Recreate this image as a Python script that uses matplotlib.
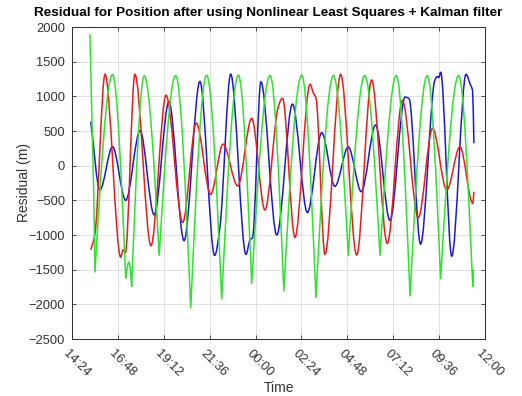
#!/usr/bin/env python3
"""Residual for position (NLS + Kalman filter), three components over time."""

from datetime import datetime, timedelta

import numpy as np
import matplotlib
matplotlib.use("Agg")
import matplotlib.pyplot as plt
import matplotlib.dates as mdates
from matplotlib.path import Path
from matplotlib.patches import PathPatch
from matplotlib.transforms import ScaledTranslation

# hours elapsed since 14:24, residual in m (peaks / troughs)
BLUE_HOURS = [0.98, 1.46, 2.12, 2.81, 3.56, 4.30, 5.07, 5.86, 6.69, 7.46, 7.74,
              8.30, 9.10, 9.31, 9.44, 9.88, 10.71, 11.53, 12.31, 13.06, 13.75,
              14.45, 15.13, 15.88, 16.63, 17.42, 17.63, 18.23, 18.98, 19.12,
              19.18, 19.28, 19.86, 20.61, 20.82, 20.95, 21.02]
BLUE_VALUES = [635, -350, 274, -500, 505, -711, 923, -1081, 1215, -1295, -880,
               1320, -1280, -1070, -1040, 1210, -1000, 888, -675, 475, -298,
               270, -375, 587, -790, 990, 965, -1132, 1235, 1285,
               1270, 1350, -1305, 1318, 1180, 1080, 323]

RED_HOURS = [0.98, 1.20, 1.73, 2.55, 2.67, 2.79, 3.29, 4.13, 4.92, 5.79, 6.50,
             7.25, 7.90, 8.67, 9.40, 10.09, 10.79, 11.01, 11.66, 12.45, 12.63,
             12.76, 13.23, 14.05, 14.89, 15.67, 16.49, 17.28, 18.11, 18.86,
             19.60, 20.29, 20.96, 21.02]
RED_VALUES = [-1215, -985, 1318, -1320, -1216, -1254, 1318, -1154, 1015, -818, 615,
              -414, 310, -293, 683, -640, 851, 972, -1034, 1174, 1044,
              980, -1279, 1318, -1289, 1236, -1121, 940, -750, 539,
              -351, 274, -543, -375]

GREEN_HOURS = [0.94, 1.20, 2.12, 2.81, 2.98, 3.12, 3.78, 4.56, 5.42, 6.21, 7.04,
               7.83, 8.70, 9.40, 10.36, 11.08, 12.01, 12.76, 13.67, 14.45, 15.31,
               16.11, 16.96, 17.68, 18.58, 19.28, 20.22, 20.96, 21.00]
GREEN_VALUES = [1895, -1540, 1315, -1625, -1390, -1745, 1295, -1300, 1300, -2055, 1305,
                -1930, 1305, -1705, 1300, -1815, 1305, -1910, 1300, -1300, 1300,
                -1300, 1300, -1885, 1300, -1638, 1300, -1745, -1500]

START = datetime(2020, 1, 1, 14, 24)
TICK_STEP_H = 2.4
N_TICKS = 10


def _smooth_path(xs, ys, cusp_min=False):
    # cubic bezier through the read points, flat at extrema (sharp minima if cusp_min)
    xs = np.asarray(xs, dtype=float)
    ys = np.asarray(ys, dtype=float)
    n = len(xs)
    d = np.diff(ys) / np.diff(xs)
    m_l = np.zeros(n)
    m_r = np.zeros(n)
    m_l[0] = m_r[0] = d[0]
    m_l[-1] = m_r[-1] = d[-1]
    for i in range(1, n - 1):
        a, b = d[i - 1], d[i]
        if a * b <= 0:
            if cusp_min and a < 0 < b:
                m_l[i] = 1.5 * a
                m_r[i] = 1.5 * b
        else:
            m_l[i] = m_r[i] = 2 * a * b / (a + b)
    verts = [(xs[0], ys[0])]
    codes = [Path.MOVETO]
    for i in range(n - 1):
        h = xs[i + 1] - xs[i]
        verts += [
            (xs[i] + h / 3, ys[i] + m_r[i] * h / 3),
            (xs[i + 1] - h / 3, ys[i + 1] - m_l[i + 1] * h / 3),
            (xs[i + 1], ys[i + 1]),
        ]
        codes += [Path.CURVE4] * 3
    return Path(verts, codes)


def _to_dates(hours):
    return [mdates.date2num(START + timedelta(hours=h)) for h in hours]


def main() -> int:
    plt.rcParams.update(
        {
            "font.family": ["Liberation Sans", "DejaVu Sans"],
            "font.size": 9.3,
            "axes.edgecolor": "#333333",
            "axes.linewidth": 0.75,
            "xtick.color": "#333333",
            "ytick.color": "#333333",
        }
    )

    fig = plt.figure(figsize=(5.22, 3.96), dpi=100)
    ax = fig.add_axes([72 / 522, 1 - 339 / 396, 413 / 522, 312 / 396])

    series = [
        (BLUE_HOURS, BLUE_VALUES, "#1a1ad0", False),
        (RED_HOURS, RED_VALUES, "#e81c1c", False),
        (GREEN_HOURS, GREEN_VALUES, "#2ee22e", True),
    ]
    for hours, values, color, cusp in series:
        path = _smooth_path(_to_dates(hours), values, cusp_min=cusp)
        ax.add_patch(PathPatch(path, facecolor="none", edgecolor=color,
                               linewidth=1.1, transform=ax.transData))

    ticks = [START + timedelta(hours=TICK_STEP_H * k) for k in range(N_TICKS)]
    tick_nums = [mdates.date2num(t) for t in ticks]
    ax.set_xlim(tick_nums[0], tick_nums[-1])
    ax.set_xticks(tick_nums)
    ax.set_xticklabels([t.strftime("%H:%M") for t in ticks], rotation=-45,
                       ha="left", va="center", rotation_mode="anchor")
    ax.set_ylim(-2500, 2000)
    ax.set_yticks(np.arange(-2500, 2001, 500))

    ax.grid(True, color="#dcdcdc", linewidth=0.6)
    ax.set_axisbelow(True)
    ax.tick_params(direction="in", length=3, width=0.6, top=True, right=True)
    ax.tick_params(axis="x", pad=9)
    ax.tick_params(axis="y", pad=5)

    # shift rotated labels so they start just left of each tick
    shift = ScaledTranslation(-0.07, 0.0, fig.dpi_scale_trans)
    for lab in ax.get_xticklabels():
        lab.set_transform(lab.get_transform() + shift)

    ax.set_xlabel("Time", fontsize=10, color="#333333")
    ax.xaxis.set_label_coords(0.5, -0.135)
    ax.set_ylabel("Residual (m)", fontsize=10, color="#333333")
    ax.yaxis.set_label_coords(-0.100, 0.5)

    fig.text(268 / 522, 1 - 13 / 396,
             "Residual for Position after using Nonlinear Least Squares + Kalman filter",
             ha="center", va="center", fontsize=9.7, fontweight="bold")

    fig.savefig("out.png", dpi=100)
    plt.close(fig)
    return 0


if __name__ == "__main__":
    raise SystemExit(main())
